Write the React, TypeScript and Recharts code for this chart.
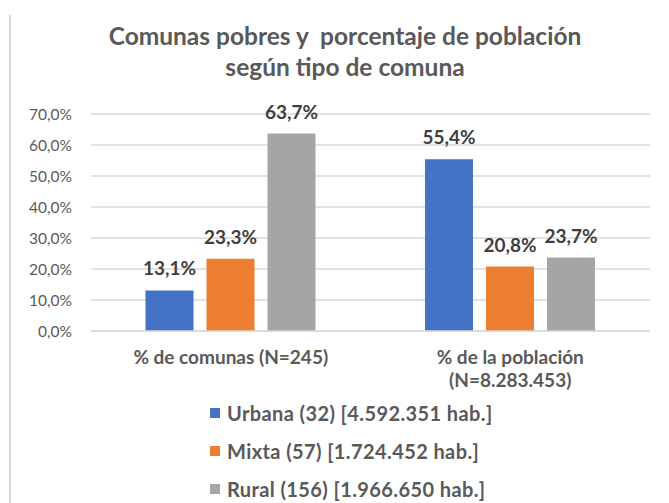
import React from 'react'
import { BarChart, Bar, XAxis, YAxis, CartesianGrid, LabelList } from 'recharts'

const categories = ['% de comunas (N=245)', '% de la población (N=8.283.453)']
const urbana = [0.131, 0.554]
const mixta = [0.233, 0.208]
const rural = [0.637, 0.237]
const yTicks = [0, 0.1, 0.2, 0.3, 0.4, 0.5, 0.6, 0.7]

const seriesInfo = [
  { key: 'urbana', name: 'Urbana (32) [4.592.351 hab.]', color: '#4472c4' },
  { key: 'mixta', name: 'Mixta (57) [1.724.452 hab.]', color: '#ed7d31' },
  { key: 'rural', name: 'Rural (156) [1.966.650 hab.]', color: '#a5a5a5' },
]

const data = categories.map((c, i) => ({ cat: c, urbana: urbana[i], mixta: mixta[i], rural: rural[i] }))

const FONT = 'Lato, "Open Sans", sans-serif'
const pct = (v: number) => (v * 100).toFixed(1).replace('.', ',') + '%'

// long labels wrap before the "(N=...)" part, as in the original
const splitLabel = (s: string) => {
  if (s.length <= 24) return [s]
  const i = s.lastIndexOf(' (')
  return [s.slice(0, i), s.slice(i + 1)]
}

const CatTick = (props: any) => {
  const { x, y, payload } = props
  const lines = splitLabel(String(payload.value))
  return (
    <text x={x} y={y + 25} textAnchor="middle" style={{ fontFamily: FONT, fontSize: 19, fontWeight: 700, fill: '#595959' }}>
      {lines.map((l, i) => (
        <tspan key={i} x={x} dy={i === 0 ? 0 : 23}>{l}</tspan>
      ))}
    </text>
  )
}

export default function App() {
  return (
    <div style={{ position: 'absolute', left: 0, top: 0, width: 669, height: 503, background: '#fff' }}>
      <div style={{ position: 'absolute', left: 9, top: 15, width: 2, height: 488, background: '#d9d9d9' }} />
      <div style={{ position: 'absolute', left: 0, top: 20, width: 690, textAlign: 'center', fontFamily: FONT, fontSize: 24.5, fontWeight: 700, color: '#595959', lineHeight: '31px' }}>
        Comunas pobres y&nbsp; porcentaje de población<br />según tipo de comuna
      </div>
      <BarChart width={669} height={503} data={data} margin={{ top: 114, right: 19, bottom: 112, left: 0 }}
        barCategoryGap="19.5%" barGap={13}>
        <CartesianGrid vertical={false} stroke="#d9d9d9" strokeWidth={1.5} />
        <XAxis dataKey="cat" tick={<CatTick />} axisLine={{ stroke: '#d9d9d9', strokeWidth: 1.5 }} tickLine={false} interval={0} height={60} />
        <YAxis domain={[0, 0.7]} ticks={yTicks} interval={0} width={91} axisLine={false} tickLine={false} tickSize={0} tickMargin={19}
          tickFormatter={pct} tick={{ fontFamily: FONT, fontSize: 15.5, fill: '#595959' }} />
        {seriesInfo.map(s => (
          <Bar key={s.key} dataKey={s.key} name={s.name} fill={s.color} isAnimationActive={false}>
            <LabelList dataKey={s.key} position="top" offset={15} formatter={(v: any) => pct(Number(v))}
              style={{ fontFamily: FONT, fontSize: 19, fontWeight: 700, fill: '#404040' }} />
          </Bar>
        ))}
      </BarChart>
      <div style={{ position: 'absolute', left: 210, top: 394, fontFamily: FONT, fontSize: 20, letterSpacing: 0.4, fontWeight: 700, color: '#595959' }}>
        {seriesInfo.map(s => (
          <div key={s.key} style={{ display: 'flex', alignItems: 'center', height: 38 }}>
            <span style={{ width: 10, height: 10, background: s.color, marginRight: 7, display: 'inline-block' }} />
            {s.name}
          </div>
        ))}
      </div>
    </div>
  )
}
